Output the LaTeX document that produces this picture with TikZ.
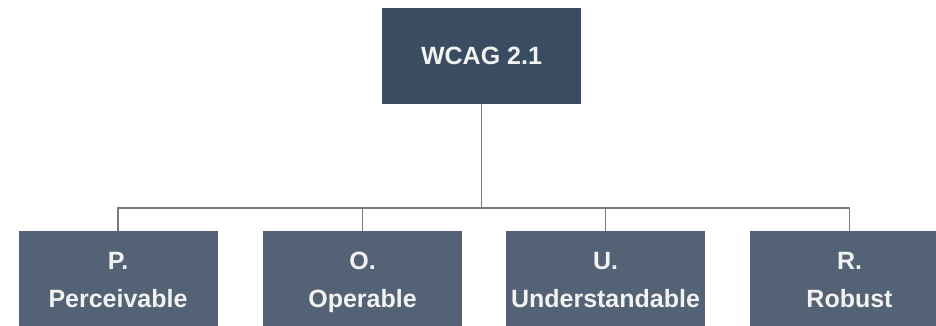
\documentclass[tikz,border=0pt]{standalone}
\usepackage{fontspec}
\setmainfont{Liberation Sans}
\definecolor{topfill}{HTML}{3A4C61}
\definecolor{subfill}{HTML}{536274}
\definecolor{linegray}{HTML}{7A7A7A}
\definecolor{txt}{HTML}{F2F2F2}
\tikzset{
  x=1pt,y=1pt,
  topbox/.style={fill=topfill,draw=none,minimum width=199pt,minimum height=96pt,inner sep=0pt,text=txt,font=\bfseries\fontsize{25}{30}\selectfont},
  subbox/.style={fill=subfill,draw=none,minimum width=199pt,minimum height=96pt,inner sep=0pt},
  lbl/.style={anchor=base,inner sep=0pt,text=txt,font=\bfseries\fontsize{25}{30}\selectfont},
  conn/.style={draw=linegray,line width=1.8pt}
}
\begin{document}
\begin{tikzpicture}
\useasboundingbox (0,0) rectangle (936,325);
\fill[white] (0,0) rectangle (936,325);
\node[topbox] (w) at (481.5,269) {WCAG 2.1};
\node[subbox] (p) at (118,46) {};
\node[subbox] (o) at (362.5,46) {};
\node[subbox] (u) at (605.5,46) {};
\node[subbox] (r) at (849.5,46) {};
\node[lbl] (p1) at ([yshift=10]p.center) {P.};
\node[lbl] (p2) at ([yshift=-28]p.center) {Perceivable};
\node[lbl] (o1) at ([yshift=10]o.center) {O.};
\node[lbl] (o2) at ([yshift=-28]o.center) {Operable};
\node[lbl] (u1) at ([yshift=10]u.center) {U.};
\node[lbl] (u2) at ([yshift=-28]u.center) {Understandable};
\node[lbl] (r1) at ([yshift=10]r.center) {R.};
\node[lbl] (r2) at ([yshift=-28]r.center) {Robust};
\coordinate (bus) at (481.5,117);
\draw[conn] (w.south) -- (bus);
\draw[conn] (p.north) -- (p.north |- bus) -- (r.north |- bus) -- (r.north);
\draw[conn] (o.north) -- (o.north |- bus);
\draw[conn] (u.north) -- (u.north |- bus);
\end{tikzpicture}
\end{document}
